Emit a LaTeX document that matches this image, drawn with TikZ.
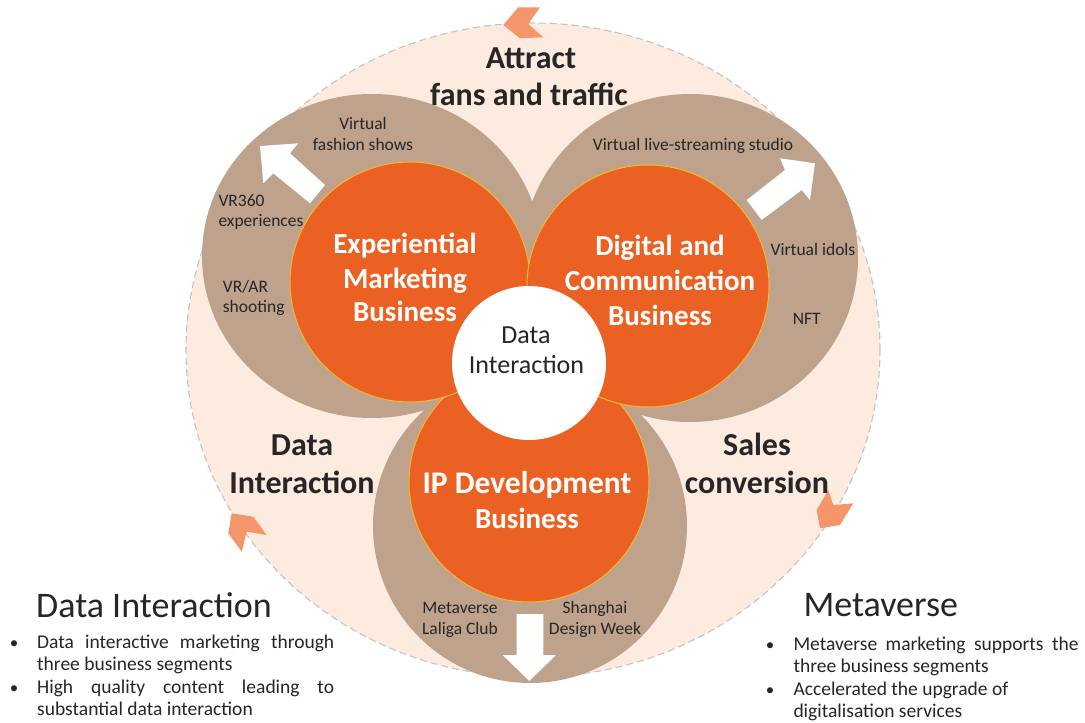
\documentclass[tikz,border=0pt]{standalone}
\usepackage{fontspec}
\setmainfont{Carlito}
\definecolor{peach}{HTML}{FDEBDF}
\definecolor{brownc}{HTML}{BEA28C}
\definecolor{orgc}{HTML}{EB6123}
\definecolor{rimc}{HTML}{F6B631}
\definecolor{chevc}{HTML}{F4956A}
\definecolor{inkc}{HTML}{262626}
\definecolor{dashc}{HTML}{C4C4C4}
\begin{document}
\begin{tikzpicture}[x=1pt,y=-1pt,
  bigbold/.style={font=\fontsize{32}{38}\selectfont\bfseries, text=inkc, anchor=base, inner sep=0pt},
  orglbl/.style={font=\fontsize{29}{34}\selectfont\bfseries, text=white, anchor=base, inner sep=0pt},
  iplbl/.style={orglbl, font=\fontsize{31.5}{36}\selectfont\bfseries},
  brn/.style={font=\fontsize{17.5}{21}\selectfont, text=inkc, anchor=base, inner sep=0pt},
  brnw/.style={brn, anchor=base west},
  ctr/.style={font=\fontsize{26}{30}\selectfont, text=inkc, anchor=base, inner sep=0pt},
  head/.style={font=\fontsize{36}{40}\selectfont, text=inkc, anchor=base west, inner sep=0pt},
  bul/.style={font=\fontsize{19.5}{22}\selectfont, text=inkc, anchor=base west, inner sep=0pt},
  dot/.style={font=\fontsize{17}{22}\selectfont, text=inkc, anchor=base, inner sep=0pt},
  orgcirc/.style={fill=orgc, draw=rimc, line width=1pt},
  whitearrow/.style={fill=white},
  chevron/.style={fill=chevc}
]
\useasboundingbox (0,0) rectangle (1085,723);
\fill[white] (0,0) rectangle (1085,723);

% outer dashed ellipse
\draw[dashc, line width=1.1pt, dash pattern=on 7pt off 4pt, fill=peach]
  (533,350) ellipse [x radius=347pt, y radius=327pt];

% brown circles
\fill[brownc] (372,256) ellipse [x radius=170pt, y radius=162pt];
\fill[brownc] (690,258) ellipse [x radius=168pt, y radius=164pt];
\fill[brownc] (530,526) circle [radius=157pt];

% chevrons on the ellipse
\fill[chevron] (503.3,25) -- (518.3,7.3) -- (540,7.3) -- (528.3,24) -- (543.3,37.3) -- (520,38.3) -- cycle;
\fill[chevron] (231.7,513.3) -- (253.3,516.7) -- (266.7,535) -- (246.7,531.7) -- (241.7,551.7) -- (228.3,533.3) -- cycle;
\fill[chevron] (828.3,490) -- (833.3,505) -- (853.3,503.3) -- (840,525) -- (820,528.3) -- (816.7,510) -- cycle;

% white block arrows
\fill[whitearrow] (260,146) -- (298.3,143.3) -- (290,153.3) -- (325,185) -- (310,203.3) -- (273.3,173.3) -- (263.3,183.3) -- cycle;
\fill[whitearrow] (815,163.3) -- (810,200) -- (801.7,190) -- (761.7,220) -- (746.7,200) -- (785,170) -- (780,158.3) -- cycle;
\fill[whitearrow] (516.7,614) -- (543.3,614) -- (543.3,655) -- (556,655) -- (529.3,681) -- (502.7,655) -- (516.7,655) -- cycle;

% orange circles
\path[orgcirc] (529,482) circle [radius=120pt];
\path[orgcirc] (410,282) circle [radius=120pt];
\path[orgcirc] (648,286) circle [radius=121pt];
% white centre
\fill[white] (529,363) circle [radius=77pt];

% big bold labels
\node[bigbold] (att1) at (531,68) {Attract};
\node[bigbold] (att2) at (529,105) {fans and traffic};
\node[bigbold] (di1) at (302,455) {Data};
\node[bigbold] (di2) at (302,493) {Interaction};
\node[bigbold] (sc1) at (757,455) {Sales};
\node[bigbold] (sc2) at (757,493) {conversion};

% orange labels
\node[orglbl] (ex1) at (405,253.3) {Experiential};
\node[orglbl] (ex2) at (405,288.3) {Marketing};
\node[orglbl] (ex3) at (405,321.7) {Business};
\node[orglbl] (dg1) at (660,255.7) {Digital and};
\node[orglbl] (dg2) at (660,290.7) {Communication};
\node[orglbl] (dg3) at (660,325) {Business};
\node[iplbl] (ip1) at (527,493.3) {IP Development};
\node[orglbl] (ip2) at (527,528.3) {Business};

% centre
\node[ctr] (c1) at (526,343.3) {Data};
\node[ctr] (c2) at (526.5,373.3) {Interaction};

% brown labels
\node[brn] (vf1) at (363,129.3) {Virtual};
\node[brn] (vf2) at (363,150) {fashion shows};
\node[brnw] (vr1) at (218.3,206) {VR360};
\node[brnw] (vr2) at (218.3,226.7) {experiences};
\node[brnw] (va1) at (222.7,292.3) {VR/AR};
\node[brnw] (va2) at (222.7,312.3) {shooting};
\node[brn] (vl) at (693,150) {Virtual live-streaming studio};
\node[brn] (vi) at (813,255.7) {Virtual idols};
\node[brn] (nft) at (806.7,324.3) {NFT};
\node[brn] (ml1) at (460,613.3) {Metaverse};
\node[brn] (ml2) at (460,634) {Laliga Club};
\node[brn] (sd1) at (595,613.3) {Shanghai};
\node[brn] (sd2) at (595,634) {Design Week};

% bottom-left block
\node[head] (hl) at (36,617.3) {Data Interaction};
\node[dot] (bl1) at (14,648.3) {•};
\node[bul] (l1) at (37,648.3) {\makebox[297pt][s]{Data interactive marketing through}};
\node[bul] (l2) at (37,670.5) {three business segments};
\node[dot] (bl2) at (14,693.3) {•};
\node[bul] (l3) at (37,693.3) {\makebox[297pt][s]{High quality content leading to}};
\node[bul] (l4) at (37,715.5) {substantial data interaction};

% bottom-right block
\node[head] (hr) at (803.3,616.7) {Metaverse};
\node[dot] (br1) at (770,650.7) {•};
\node[bul] (r1) at (793.3,650.7) {\makebox[285pt][s]{Metaverse marketing supports the}};
\node[bul] (r2) at (793.3,672.7) {three business segments};
\node[dot] (br2) at (770,695) {•};
\node[bul] (r3) at (793.3,695) {Accelerated the upgrade of};
\node[bul] (r4) at (793.3,717.7) {digitalisation services};
\end{tikzpicture}
\end{document}
